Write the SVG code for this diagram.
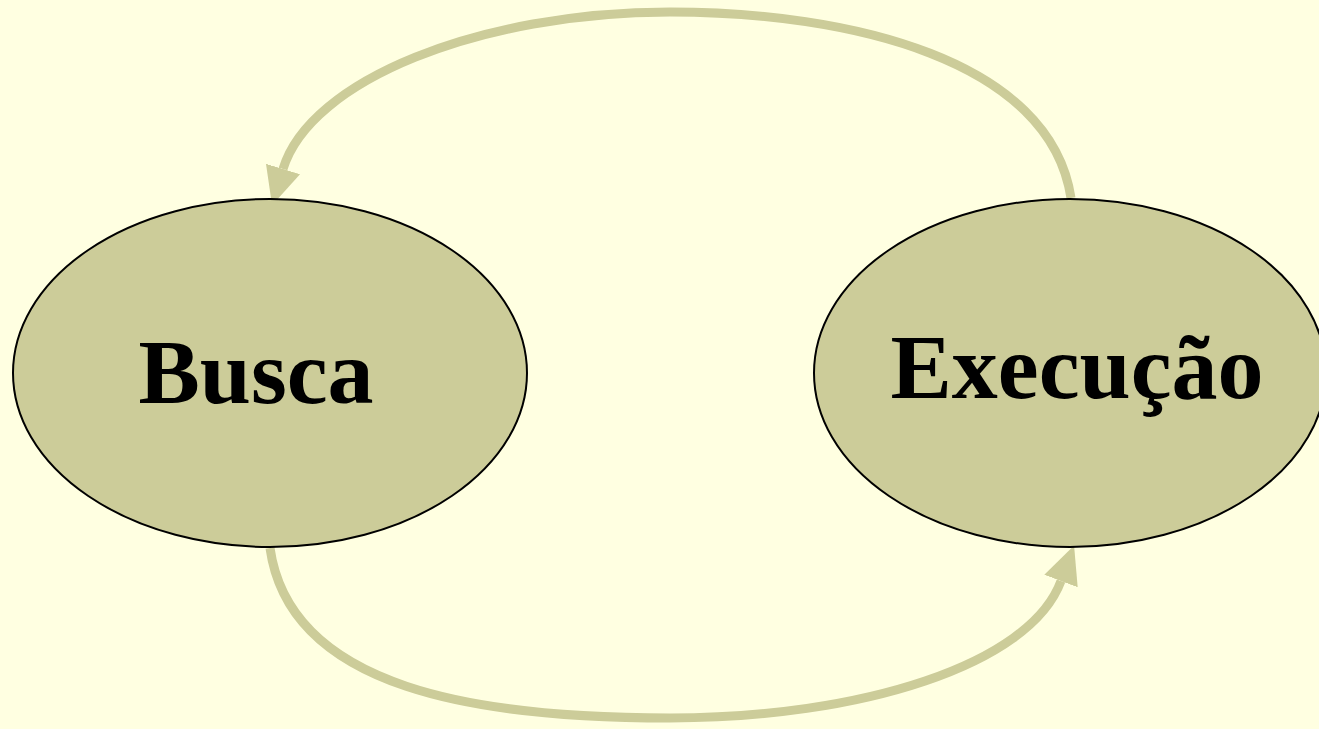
<svg xmlns="http://www.w3.org/2000/svg" width="1319" height="729" viewBox="0 0 1319 729">
<style>
.node{fill:#CCCC99;stroke:#000;stroke-width:2}
.lbl{font-family:"Liberation Serif",serif;font-weight:bold;font-size:92px;fill:#000;text-anchor:middle}
.conn{fill:none;stroke:#CCCC99;stroke-width:9}
</style>
<defs>
<marker id="ah" markerUnits="userSpaceOnUse" markerWidth="40" markerHeight="40" viewBox="0 -18 36 36" refX="0" refY="0" orient="auto">
<polygon points="0,-16 34,0 0,16" fill="#CCCC99"/>
</marker>
</defs>
<rect width="1319" height="729" fill="#FFFFE1"/>
<g id="connectors">
<path class="conn" d="M1071,198 C1050,60 850,12 670,12 C480,12 310,80 283,169" marker-end="url(#ah)"/>
<path class="conn" d="M270,548 C290,690 480,718 670,718 C860,718 1030,665 1061,581" marker-end="url(#ah)"/>
</g>
<g id="busca">
<ellipse class="node" cx="270" cy="373" rx="257" ry="174"/>
<text class="lbl" x="256" y="403">Busca</text>
</g>
<g id="execucao">
<ellipse class="node" cx="1070" cy="373" rx="256" ry="174"/>
<text class="lbl" x="1077" y="398">Execução</text>
</g>
</svg>
